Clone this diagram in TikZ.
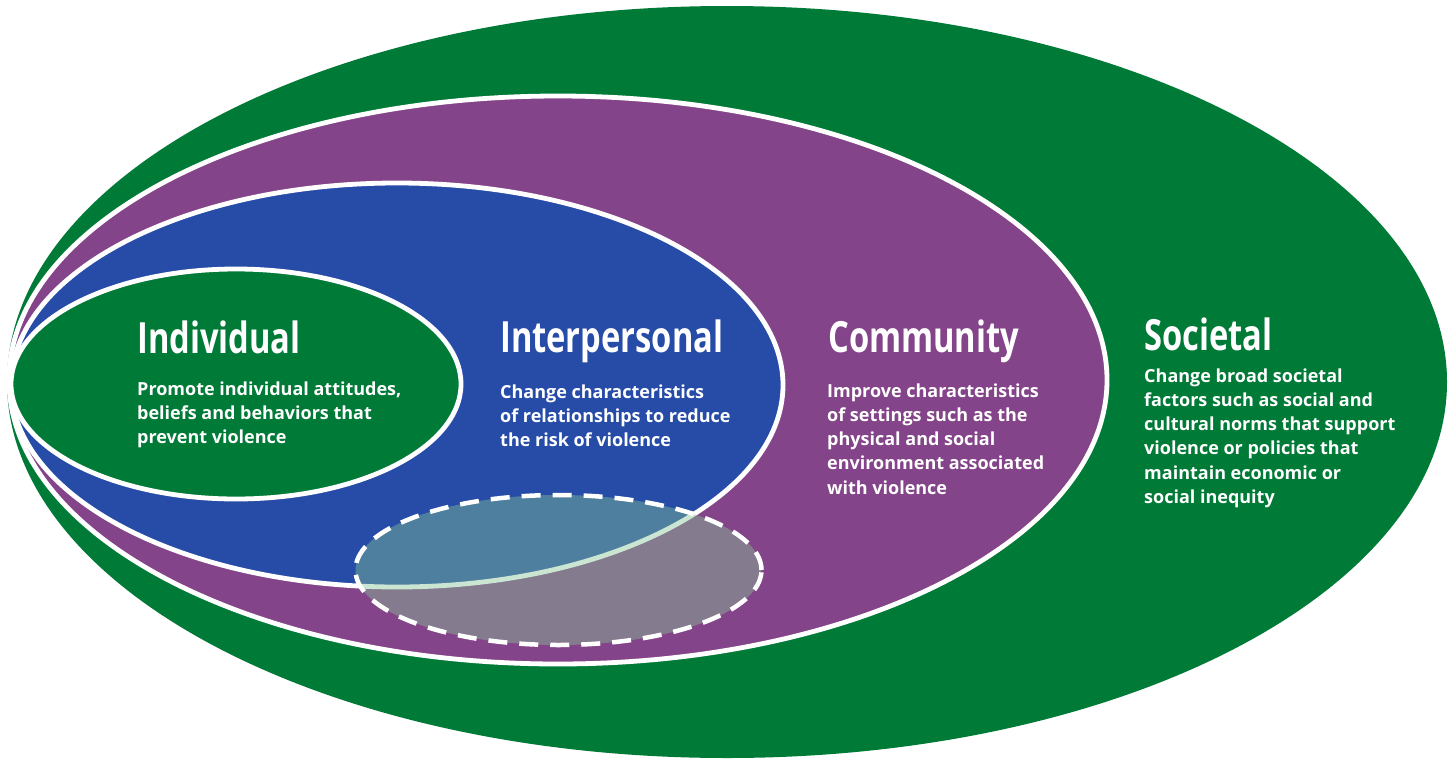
\documentclass[tikz,border=0pt]{standalone}
\usepackage{fontspec}
\setmainfont{Open Sans}
\newfontfamily\headfont{Open Sans}[FakeStretch=0.76]
\definecolor{socgreen}{RGB}{0,122,55}
\definecolor{compurple}{RGB}{132,68,137}
\definecolor{intblue}{RGB}{38,76,168}
\definecolor{overlap}{RGB}{134,196,149}
\begin{document}
\begin{tikzpicture}[x=1pt, y=-1pt, line join=round,
  ring/.style={draw=white, line width=4.8pt},
  head/.style={anchor=base west, inner sep=0pt, text=white, font=\headfont\bfseries\fontsize{43}{46}\selectfont},
  body/.style={anchor=base west, inner sep=0pt, text=white, align=left, font=\bfseries\fontsize{18}{24.3}\selectfont}]
\useasboundingbox (0,0) rectangle (1453,763);
% nested levels
\fill[socgreen] (727,382) ellipse [x radius=720pt, y radius=376pt];
\path[fill=compurple, ring] (558,380) ellipse [x radius=549pt, y radius=284pt];
\path[fill=intblue, ring] (397,385) ellipse [x radius=386pt, y radius=202pt];
\path[fill=socgreen, ring] (236,384) ellipse [x radius=225pt, y radius=115pt];
% overlap
\fill[overlap, fill opacity=0.43] (558.5,570) ellipse [x radius=203pt, y radius=75pt];
\draw[white, line width=4.5pt, dash pattern=on 19pt off 12pt] (558.5,570) ellipse [x radius=203pt, y radius=75pt];
% labels (body nodes sit on their last baseline)
\node[head] (ind) at (137,353) {Individual};
\node[body] (indtxt) at (137,443.6) {Promote individual attitudes,\\beliefs and behaviors that\\prevent violence};
\node[head] (int) at (500,352) {Interpersonal};
\node[body] (inttxt) at (500,446.6) {Change characteristics\\of relationships to reduce\\the risk of violence};
\node[head] (com) at (828,352) {Community};
\node[body] (comtxt) at (827,494.2) {Improve characteristics\\of settings such as the\\physical and social\\environment associated\\with violence};
\node[head] (soc) at (1144,350) {Societal};
\node[body] (soctxt) at (1144,503.5) {Change broad societal\\factors such as social and\\cultural norms that support\\violence or policies that\\maintain economic or\\social inequity};
\end{tikzpicture}
\end{document}
